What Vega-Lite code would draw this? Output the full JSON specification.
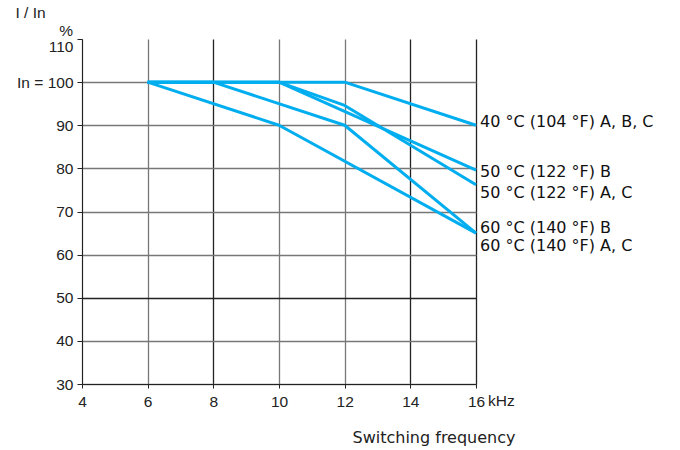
{
  "$schema": "https://vega.github.io/schema/vega-lite/v6.json",
  "width": 394,
  "height": 345,
  "autosize": {"type": "none"},
  "padding": {"left": 82, "top": 39, "right": 204, "bottom": 66},
  "background": "white",
  "config": {
    "view": {"stroke": null},
    "font": "Liberation Sans",
    "axis": {
      "labelFont": "Liberation Sans",
      "titleFont": "Liberation Sans",
      "labelFontSize": 15.5,
      "titleFontSize": 15.5,
      "labelColor": "#222",
      "titleColor": "#222",
      "titleFontWeight": "normal",
      "domainColor": "#222",
      "tickColor": "#222",
      "gridColor": "#666",
      "gridOpacity": 1,
      "gridWidth": 1.3
    }
  },
  "datasets": {
    "curves": [
      {"series": "40 °C (104 °F) A, B, C", "freq": 6, "pct": 100},
      {"series": "40 °C (104 °F) A, B, C", "freq": 12, "pct": 100},
      {"series": "40 °C (104 °F) A, B, C", "freq": 16, "pct": 90},
      {"series": "50 °C (122 °F) B", "freq": 6, "pct": 100},
      {"series": "50 °C (122 °F) B", "freq": 10, "pct": 100},
      {"series": "50 °C (122 °F) B", "freq": 16, "pct": 79.6},
      {"series": "50 °C (122 °F) A, C", "freq": 6, "pct": 100},
      {"series": "50 °C (122 °F) A, C", "freq": 10, "pct": 100},
      {"series": "50 °C (122 °F) A, C", "freq": 12, "pct": 94.6},
      {"series": "50 °C (122 °F) A, C", "freq": 16, "pct": 76.2},
      {"series": "60 °C (140 °F) B", "freq": 6, "pct": 100},
      {"series": "60 °C (140 °F) B", "freq": 8, "pct": 100},
      {"series": "60 °C (140 °F) B", "freq": 12, "pct": 90},
      {"series": "60 °C (140 °F) B", "freq": 16, "pct": 65},
      {"series": "60 °C (140 °F) A, C", "freq": 6, "pct": 100},
      {"series": "60 °C (140 °F) A, C", "freq": 10, "pct": 90},
      {"series": "60 °C (140 °F) A, C", "freq": 16, "pct": 65}
    ],
    "labels": [
      {"series": "40 °C (104 °F) A, B, C", "freq": 16, "pos": 90.75},
      {"series": "50 °C (122 °F) B", "freq": 16, "pos": 79.2},
      {"series": "50 °C (122 °F) A, C", "freq": 16, "pos": 74.3},
      {"series": "60 °C (140 °F) B", "freq": 16, "pos": 66.1},
      {"series": "60 °C (140 °F) A, C", "freq": 16, "pos": 62.0}
    ],
    "pctnote": [{"text": "%", "freq": 4, "pct": 110}],
    "unitnote": [{"text": "kHz", "freq": 16, "pct": 30}]
  },
  "layer": [
    {
      "data": {"name": "curves"},
      "mark": {"type": "line", "color": "#00AEEF", "strokeWidth": 3, "strokeJoin": "round"},
      "encoding": {
        "x": {
          "field": "freq", "type": "quantitative",
          "scale": {"domain": [4, 16], "nice": false, "zero": false},
          "axis": {
            "values": [4, 6, 8, 10, 12, 14, 16],
            "title": "Switching frequency",
            "titleFont": "DejaVu Sans",
            "titleFontSize": 16,
            "titleAnchor": "end",
            "titleAlign": "right",
            "titleX": 433,
            "titleY": 53,
            "titleBaseline": "middle",
            "labelPadding": 6,
            "tickSize": 4,
            "labelFlush": false,
            "gridColor": {"condition": {"test": "datum.value == 8 || datum.value == 14 || datum.value == 16", "value": "#222"}, "value": "#777"}
          }
        },
        "y": {
          "field": "pct", "type": "quantitative",
          "scale": {"domain": [30, 110], "nice": false, "zero": false},
          "axis": {
            "values": [30, 40, 50, 60, 70, 80, 90, 100, 110],
            "labelExpr": "datum.value == 100 ? 'In = 100' : datum.label",
            "labelBaseline": {"condition": {"test": "datum.value == 110", "value": "top"}, "value": "middle"},
            "title": "I / In",
            "titleAngle": 0,
            "titleAlign": "left",
            "titleBaseline": "middle",
            "titleX": -67,
            "titleY": -27,
            "tickSize": 5,
            "labelPadding": 4,
            "labelFlush": false,
            "gridColor": {"condition": [{"test": "datum.value == 110", "value": "transparent"}, {"test": "datum.value == 50", "value": "#222"}], "value": "#777"}
          }
        },
        "detail": {"field": "series"}
      }
    },
    {
      "data": {"name": "labels"},
      "mark": {"type": "text", "align": "left", "baseline": "middle", "dx": 4, "fontSize": 16, "font": "DejaVu Sans", "color": "#111"},
      "encoding": {
        "x": {"field": "freq", "type": "quantitative"},
        "y": {"field": "pos", "type": "quantitative"},
        "text": {"field": "series"}
      }
    },
    {
      "data": {"name": "pctnote"},
      "mark": {"type": "text", "align": "right", "baseline": "middle", "dx": -9, "dy": -8, "font": "Liberation Sans", "fontSize": 15.5, "color": "#222"},
      "encoding": {
        "x": {"field": "freq", "type": "quantitative"},
        "y": {"field": "pct", "type": "quantitative"},
        "text": {"field": "text"}
      }
    },
    {
      "data": {"name": "unitnote"},
      "mark": {"type": "text", "align": "left", "baseline": "middle", "dx": 12, "dy": 17, "font": "Liberation Sans", "fontSize": 15.5, "color": "#222"},
      "encoding": {
        "x": {"field": "freq", "type": "quantitative"},
        "y": {"field": "pct", "type": "quantitative"},
        "text": {"field": "text"}
      }
    }
  ]
}
